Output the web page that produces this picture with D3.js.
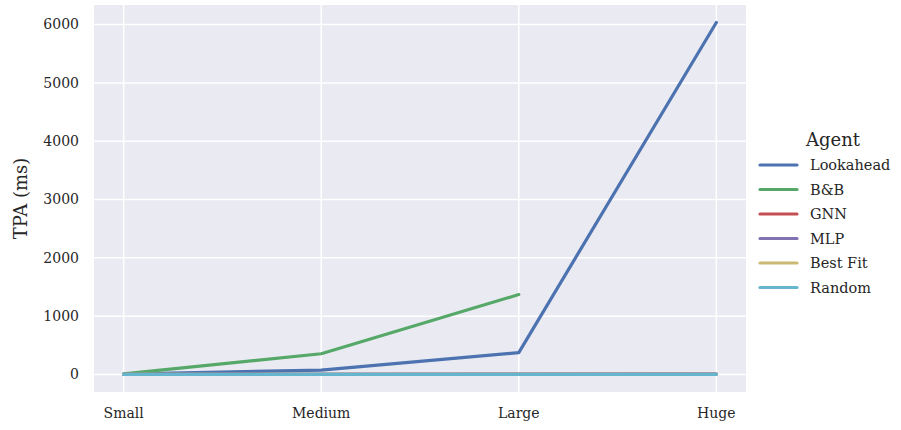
<!DOCTYPE html>
<meta charset="utf-8">
<script src="https://d3js.org/d3.v7.min.js"></script>
<style>
  body { margin: 0; background: #fff; }
  text { font-family: "DejaVu Serif", "Liberation Serif", serif; fill: #262626; }
</style>
<svg id="chart" width="901" height="430"></svg>
<script>
// data
const sizes = ["Small", "Medium", "Large", "Huge"];
const agents = ["Lookahead", "B&B", "GNN", "MLP", "Best Fit", "Random"];
const lookahead = [5, 75, 375, 6035];
const bnb = [10, 355, 1370, null];
const gnn = [2, 3, 5, 8];
const mlp = [1, 2, 3, 5];
const bestFit = [1, 1, 2, 3];
const random = [1, 1, 1, 2];
const yTicks = [0, 1000, 2000, 3000, 4000, 5000, 6000];
const colors = ["#4C72B0", "#55A868", "#C44E52", "#8172B2", "#CCB974", "#64B5CD"];

const series = [lookahead, bnb, gnn, mlp, bestFit, random];

const svg = d3.select("#chart");
const plotL = 94, plotR = 746, plotT = 5, plotB = 392;

const x = d3.scaleLinear().domain([-0.15, 3.15]).range([plotL, plotR]);
const y = d3.scaleLinear().domain([-301, 6336]).range([plotB, plotT]);

// background
svg.append("rect")
  .attr("x", plotL).attr("y", plotT)
  .attr("width", plotR - plotL).attr("height", plotB - plotT)
  .attr("fill", "#EAEAF2");

// grid
svg.append("g").selectAll("line")
  .data(yTicks).join("line")
  .attr("x1", plotL).attr("x2", plotR)
  .attr("y1", d => y(d)).attr("y2", d => y(d))
  .attr("stroke", "#fff").attr("stroke-width", 1.5);
svg.append("g").selectAll("line")
  .data(sizes).join("line")
  .attr("x1", (d, i) => x(i)).attr("x2", (d, i) => x(i))
  .attr("y1", plotT).attr("y2", plotB)
  .attr("stroke", "#fff").attr("stroke-width", 1.5);

// tick labels
svg.append("g").selectAll("text")
  .data(yTicks).join("text")
  .attr("x", plotL - 15).attr("y", d => y(d))
  .attr("dy", "0.35em")
  .attr("text-anchor", "end")
  .style("font-size", "14px")
  .text(d => d);
svg.append("g").selectAll("text")
  .data(sizes).join("text")
  .attr("x", (d, i) => x(i)).attr("y", plotB + 26)
  .attr("text-anchor", "middle")
  .style("font-size", "14px")
  .text(d => d);

// axis label
svg.append("text")
  .attr("transform", `translate(27,${(plotT + plotB) / 2}) rotate(-90)`)
  .attr("text-anchor", "middle")
  .style("font-size", "18px")
  .text("TPA (ms)");

// lines
const line = d3.line()
  .defined(d => d != null)
  .x((d, i) => x(i))
  .y(d => y(d));
svg.append("g").selectAll("path")
  .data(series).join("path")
  .attr("d", line)
  .attr("fill", "none")
  .attr("stroke", (d, i) => colors[i])
  .attr("stroke-width", 3.2)
  .attr("stroke-linecap", "round")
  .attr("stroke-linejoin", "round");

// legend
const lg = svg.append("g");
lg.append("text")
  .attr("x", 833).attr("y", 146)
  .attr("text-anchor", "middle")
  .style("font-size", "18px")
  .text("Agent");
const items = lg.selectAll("g.item")
  .data(agents).join("g")
  .attr("class", "item")
  .attr("transform", (d, i) => `translate(0,${165 + i * 24.5})`);
items.append("line")
  .attr("x1", 760).attr("x2", 797)
  .attr("stroke", (d, i) => colors[i])
  .attr("stroke-width", 3.2)
  .attr("stroke-linecap", "round");
items.append("text")
  .attr("x", 810).attr("dy", "0.35em")
  .style("font-size", "14.5px")
  .text(d => d);
</script>
